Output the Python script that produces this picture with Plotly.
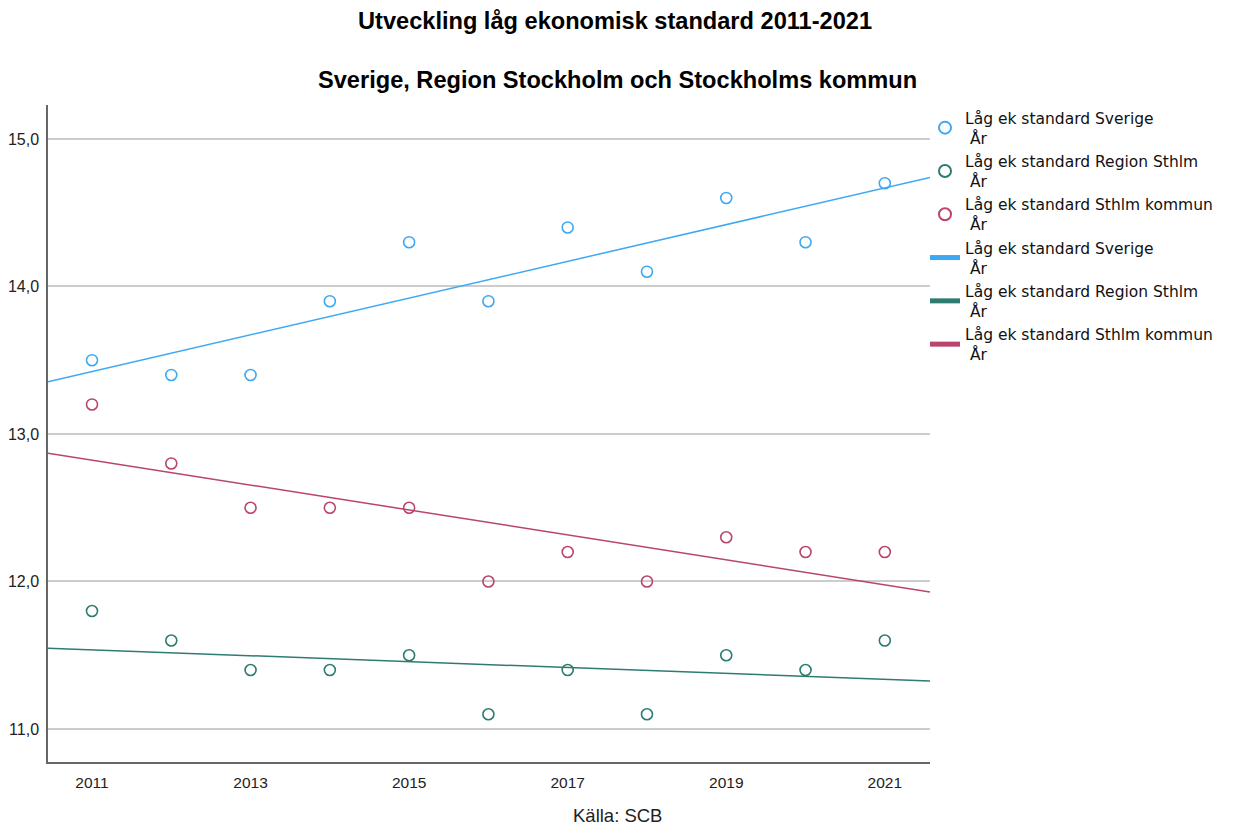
import numpy as np
import plotly.graph_objects as go

years = [2011, 2012, 2013, 2014, 2015, 2016, 2017, 2018, 2019, 2020, 2021]
sverige = [13.5, 13.4, 13.4, 13.9, 14.3, 13.9, 14.4, 14.1, 14.6, 14.3, 14.7]
region = [11.8, 11.6, 11.4, 11.4, 11.5, 11.1, 11.4, 11.1, 11.5, 11.4, 11.6]
kommun = [13.2, 12.8, 12.5, 12.5, 12.5, 12.0, 12.2, 12.0, 12.3, 12.2, 12.2]
names = ["Låg ek standard Sverige", "Låg ek standard Region Sthlm", "Låg ek standard Sthlm kommun"]
colors = ["#3EA9F2", "#2E7B72", "#B9446F"]
x_ticks = [2011, 2013, 2015, 2017, 2019, 2021]
y_ticks = [11, 12, 13, 14, 15]

x_range = [2010.445, 2021.57]
y_range = [10.776, 15.23]

# page offset (body margin) compensation
OFF = 8
W, H = 1234 - OFF, 827 - OFF
L, T, R, B = 48 - OFF, 105 - OFF, 304, 65

fig = go.Figure()
series = [sverige, region, kommun]
for name, vals, col in zip(names, series, colors):
    fig.add_trace(go.Scatter(
        x=years, y=vals, mode="markers", name=name + "<br> År",
        marker=dict(symbol="circle-open", size=11, color=col, line=dict(width=1.6, color=col)),
    ))
for name, vals, col in zip(names, series, colors):
    k, m = np.polyfit(years, vals, 1)
    xs = np.array(x_range)
    fig.add_trace(go.Scatter(
        x=xs, y=k * xs + m, mode="lines", name=name + "<br> År",
        line=dict(color=col, width=1.5),
    ))

plot_h = H - T - B
plot_w = W - L - R
def px_x(px):
    return (px - OFF - L) / plot_w
def px_y(py):
    return (H - B - (py - OFF)) / plot_h

fig.update_layout(
    width=W, height=H,
    margin=dict(l=L, r=R, t=T, b=B, autoexpand=False),
    paper_bgcolor="white", plot_bgcolor="white",
    separators=", ",
    font=dict(family="Liberation Sans, Arial, sans-serif", size=14, color="#222222"),
    showlegend=True,
    legend=dict(x=px_x(925), y=px_y(101), xanchor="left", yanchor="top",
                font=dict(family="DejaVu Sans, sans-serif", size=15.5, color="#111111"),
                itemsizing="constant", bgcolor="rgba(0,0,0,0)", tracegroupgap=0),
    xaxis=dict(range=x_range, tickvals=x_ticks, showgrid=False, zeroline=False,
               automargin=False,
               showline=True, linecolor="#666666", linewidth=1.5, ticks="",
               ticklabelstandoff=6,
               tickfont=dict(size=15.5, color="#222222")),
    yaxis=dict(range=y_range, tickvals=y_ticks, tickformat=".1f", showgrid=True,
               automargin=False,
               gridcolor="#CCCCCC", gridwidth=2, zeroline=False,
               showline=True, linecolor="#666666", linewidth=1.5, ticks="",
               ticklabelstandoff=4,
               tickfont=dict(size=16, color="#222222")),
    annotations=[
        dict(text="<b>Utveckling låg ekonomisk standard 2011-2021</b>", xref="paper", yref="paper",
             x=px_x(615), y=px_y(21), showarrow=False, font=dict(size=23.6, color="#000000"),
             xanchor="center", yanchor="middle"),
        dict(text="<b>Sverige, Region Stockholm och Stockholms kommun</b>", xref="paper", yref="paper",
             x=px_x(617), y=px_y(80), showarrow=False,
             font=dict(size=23.6, color="#000000"), xanchor="center", yanchor="middle"),
        dict(text="Källa: SCB", xref="paper", yref="paper", x=px_x(617), y=px_y(815), showarrow=False,
             font=dict(size=18.5, color="#222222"), xanchor="center", yanchor="middle", borderpad=0),
    ],
)

fig.write_html("out.html")
